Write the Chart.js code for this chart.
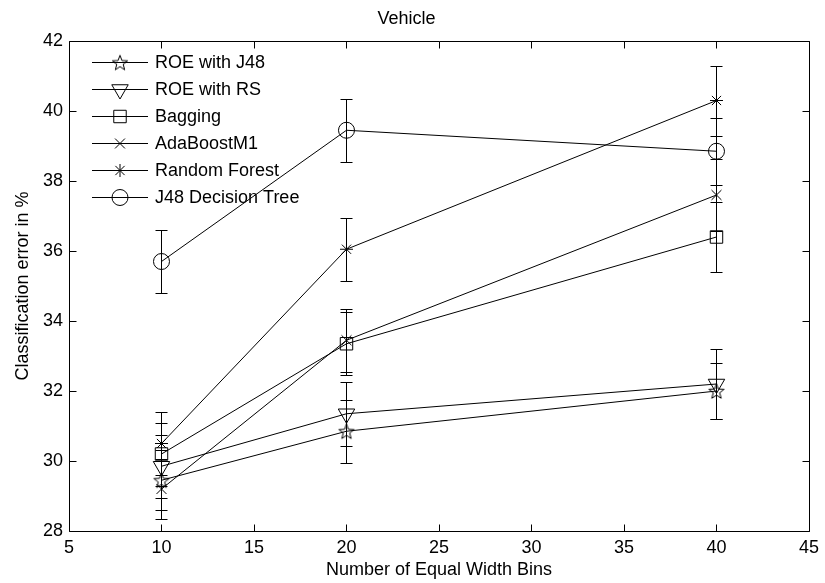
<!DOCTYPE html>
<html>
<head>
<meta charset="utf-8">
<title>Vehicle</title>
<script src="https://cdn.jsdelivr.net/npm/chart.js@4.4.1/dist/chart.umd.min.js"></script>
<style>
  html, body { margin: 0; padding: 0; background: #fff; }
  #wrap { width: 825px; height: 583px; }
</style>
</head>
<body>
<div id="wrap"><canvas id="vehicleChart" width="825" height="583"></canvas></div>
<script>
// Values (mean error and half-width of the error bar)
const bins = [10, 20, 40];
const xTicks = [5, 10, 15, 20, 25, 30, 35, 40, 45];
const yTicks = [28, 30, 32, 34, 36, 38, 40, 42];

const roeJ48 = [29.45, 30.85, 32.0];
const roeJ48Err = [0.85, 0.9, 0.8];
const roeRS = [29.85, 31.35, 32.2];
const roeRSErr = [0.9, 0.92, 1.0];
const bagging = [30.2, 33.35, 36.4];
const baggingErr = [0.9, 0.9, 1.0];
const adaBoost = [29.2, 33.45, 37.6];
const adaBoostErr = [0.85, 0.9, 1.03];
const randomForest = [30.5, 36.05, 40.3];
const randomForestErr = [0.9, 0.9, 1.0];
const j48Tree = [35.7, 39.45, 38.85];
const j48TreeErr = [0.9, 0.9, 0.95];

const FONT = "'Liberation Sans', Arial, Helvetica, sans-serif";
Chart.defaults.font.family = FONT;
Chart.defaults.color = '#000';

// Chart.js has no open five-pointed star, so make one
function makeStar(r) {
    const size = 20;
    const c = document.createElement('canvas');
    c.width = size;
    c.height = size;
    const g = c.getContext('2d');
    g.strokeStyle = '#000';
    g.lineWidth = 1;
    g.beginPath();
    for (let i = 0; i < 10; i++) {
        const rad = i % 2 === 0 ? r : r * 0.42;
        const a = -Math.PI / 2 + i * Math.PI / 5;
        const px = size / 2 + rad * Math.cos(a);
        const py = size / 2 + 0.8 + rad * Math.sin(a);
        if (i === 0) g.moveTo(px, py); else g.lineTo(px, py);
    }
    g.closePath();
    g.stroke();
    return c;
}

function toPoints(values) {
    return bins.map((b, i) => ({ x: b, y: values[i] }));
}

function series(label, values, errors, style, radius, rotation) {
    return {
        label: label,
        data: toPoints(values),
        errors: errors,
        borderColor: '#000',
        borderWidth: 1,
        pointStyle: style,
        pointRadius: radius,
        pointHoverRadius: radius,
        pointRotation: rotation || 0,
        pointBorderColor: '#000',
        pointBackgroundColor: 'rgba(0,0,0,0)',
        pointBorderWidth: 1,
        tension: 0,
        fill: false
    };
}

const datasets = [
    series('ROE with J48', roeJ48, roeJ48Err, makeStar(8), 8),
    series('ROE with RS', roeRS, roeRSErr, 'triangle', 9.5, 180),
    series('Bagging', bagging, baggingErr, 'rect', 8.8),
    series('AdaBoostM1', adaBoost, adaBoostErr, 'crossRot', 7),
    series('Random Forest', randomForest, randomForestErr, 'star', 6.5),
    series('J48 Decision Tree', j48Tree, j48TreeErr, 'circle', 8)
];

// Vertical error bars with caps, drawn under the lines
const errorBars = {
    id: 'errorBars',
    beforeDatasetsDraw(chart) {
        const { ctx, scales: { x, y } } = chart;
        ctx.save();
        ctx.strokeStyle = '#000';
        ctx.lineWidth = 1;
        chart.data.datasets.forEach(ds => {
            ds.data.forEach((p, i) => {
                const px = Math.round(x.getPixelForValue(p.x)) + 0.5;
                const top = Math.round(y.getPixelForValue(p.y + ds.errors[i])) + 0.5;
                const bot = Math.round(y.getPixelForValue(p.y - ds.errors[i])) + 0.5;
                ctx.beginPath();
                ctx.moveTo(px, top); ctx.lineTo(px, bot);
                ctx.moveTo(px - 6, top); ctx.lineTo(px + 6, top);
                ctx.moveTo(px - 6, bot); ctx.lineTo(px + 6, bot);
                ctx.stroke();
            });
        });
        ctx.restore();
    }
};

// Box round the axes with inward ticks on all four sides
const frame = {
    id: 'frame',
    afterDraw(chart) {
        const { ctx, scales: { x, y } } = chart;
        const snap = v => Math.round(v) + 0.5;
        const L = snap(x.getPixelForValue(xTicks[0]));
        const R = snap(x.getPixelForValue(xTicks[xTicks.length - 1]));
        const B = snap(y.getPixelForValue(yTicks[0]));
        const T = snap(y.getPixelForValue(yTicks[yTicks.length - 1]));
        const len = 7;
        ctx.save();
        ctx.strokeStyle = '#000';
        ctx.lineWidth = 1;
        ctx.beginPath();
        ctx.rect(L, T, R - L, B - T);
        xTicks.forEach(v => {
            const px = snap(x.getPixelForValue(v));
            ctx.moveTo(px, B); ctx.lineTo(px, B - len);
            ctx.moveTo(px, T); ctx.lineTo(px, T + len);
        });
        yTicks.forEach(v => {
            const py = snap(y.getPixelForValue(v));
            ctx.moveTo(L, py); ctx.lineTo(L + len, py);
            ctx.moveTo(R, py); ctx.lineTo(R - len, py);
        });
        ctx.stroke();
        ctx.restore();
    }
};

// Legend inside the plot: short line with the marker in the middle
const insideLegend = {
    id: 'insideLegend',
    afterDraw(chart) {
        const ctx = chart.ctx;
        const x0 = 92, x1 = 148, textX = 155, y0 = 62, step = 27;
        ctx.save();
        chart.data.datasets.forEach((ds, i) => {
            const yy = Math.round(y0 + i * step) + 0.5;
            ctx.strokeStyle = '#000';
            ctx.lineWidth = 1;
            ctx.beginPath();
            ctx.moveTo(x0, yy);
            ctx.lineTo(x1, yy);
            ctx.stroke();
            ctx.fillStyle = 'rgba(0,0,0,0)';
            Chart.helpers.drawPoint(ctx, {
                pointStyle: ds.pointStyle,
                radius: ds.pointRadius,
                rotation: ds.pointRotation,
                borderWidth: 1
            }, (x0 + x1) / 2, yy);
            ctx.fillStyle = '#000';
            ctx.font = '18px ' + FONT;
            ctx.textBaseline = 'middle';
            ctx.textAlign = 'left';
            ctx.fillText(ds.label, textX, yy + 1);
        });
        ctx.restore();
    }
};

const config = {
    type: 'line',
    data: { datasets: datasets },
    options: {
        responsive: false,
        animation: false,
        layout: { padding: { left: 0, right: 12, top: 0, bottom: 0 } },
        plugins: {
            legend: { display: false },
            tooltip: { enabled: false },
            title: {
                display: true,
                text: 'Vehicle',
                color: '#000',
                font: { size: 18, weight: 'normal' },
                padding: { top: 8, bottom: 11.4 }
            }
        },
        scales: {
            x: {
                type: 'linear',
                min: 5,
                max: 45,
                ticks: { stepSize: 5, padding: 6, font: { size: 18 }, color: '#000' },
                grid: { display: false, drawTicks: false },
                border: { display: false },
                title: {
                    display: true,
                    text: 'Number of Equal Width Bins',
                    font: { size: 18 },
                    color: '#000',
                    padding: { top: 0, bottom: 2 }
                },
                afterFit(scale) { scale.height = 52; }
            },
            y: {
                type: 'linear',
                min: 28,
                max: 42,
                ticks: { stepSize: 2, padding: 6, font: { size: 18 }, color: '#000' },
                grid: { display: false, drawTicks: false },
                border: { display: false },
                title: {
                    display: true,
                    text: 'Classification error in %',
                    font: { size: 18 },
                    color: '#000',
                    padding: { top: 12, bottom: 0 }
                },
                afterFit(scale) { scale.width = 69; }
            }
        }
    },
    plugins: [errorBars, frame, insideLegend]
};

new Chart(document.getElementById('vehicleChart').getContext('2d'), config);
</script>
</body>
</html>
